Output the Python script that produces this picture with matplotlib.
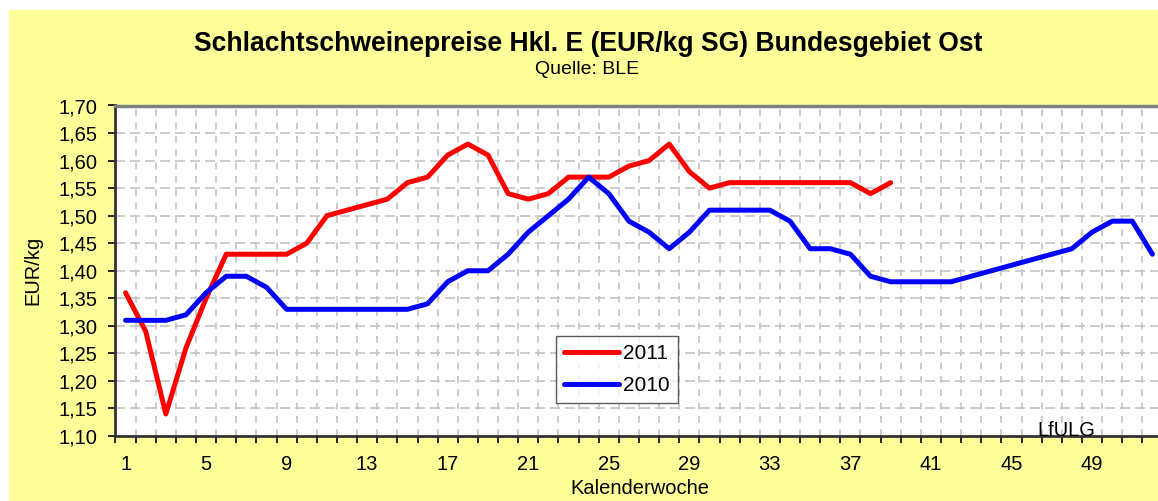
import matplotlib
matplotlib.use("Agg")
import matplotlib.pyplot as plt
from matplotlib.patches import Rectangle
from matplotlib.ticker import FuncFormatter, FixedLocator

plt.rcParams['font.family'] = ['Liberation Sans', 'DejaVu Sans']

# Kalenderwochen and prices (EUR/kg SG)
weeks_2011 = list(range(1, 40))
price_2011 = [1.36, 1.29, 1.14, 1.26, 1.35, 1.43, 1.43, 1.43, 1.43, 1.45,
              1.50, 1.51, 1.52, 1.53, 1.56, 1.57, 1.61, 1.63, 1.61, 1.54,
              1.53, 1.54, 1.57, 1.57, 1.57, 1.59, 1.60, 1.63, 1.58, 1.55,
              1.56, 1.56, 1.56, 1.56, 1.56, 1.56, 1.56, 1.54, 1.56]
weeks_2010 = list(range(1, 53))
price_2010 = [1.31, 1.31, 1.31, 1.32, 1.36, 1.39, 1.39, 1.37, 1.33, 1.33,
              1.33, 1.33, 1.33, 1.33, 1.33, 1.34, 1.38, 1.40, 1.40, 1.43,
              1.47, 1.50, 1.53, 1.57, 1.54, 1.49, 1.47, 1.44, 1.47, 1.51,
              1.51, 1.51, 1.51, 1.49, 1.44, 1.44, 1.43, 1.39, 1.38, 1.38,
              1.38, 1.38, 1.39, 1.40, 1.41, 1.42, 1.43, 1.44, 1.47, 1.49,
              1.49, 1.43]
xtick_labels = list(range(1, 53, 4))
yticks = [1.10 + 0.05 * i for i in range(13)]

W, H = 1158, 501
fig = plt.figure(figsize=(W / 100, H / 100), dpi=100, facecolor='white')
# yellow chart area (white margin on left/top)
fig.patches.append(Rectangle((9 / W, 0), 1, 1 - 10 / H, transform=fig.transFigure,
                             facecolor='#FFFF99', edgecolor='none', zorder=-10))

ax = fig.add_axes([115.5 / W, 1 - 436 / H, 1047 / W, 330.5 / H])
ax.set_facecolor('white')

ax.plot(weeks_2011, price_2011, color='#FF0000', lw=3.6, label='2011',
        solid_joinstyle='round', solid_capstyle='round', zorder=3)
ax.plot(weeks_2010, price_2010, color='#0000FF', lw=3.6, label='2010',
        solid_joinstyle='round', solid_capstyle='round', zorder=3)

ax.set_xlim(0.5, 52.5)
ax.set_ylim(1.10, 1.70)

# y axis
ax.set_yticks(yticks)
ax.yaxis.set_major_formatter(FuncFormatter(lambda v, p: f"{v:.2f}".replace('.', ',')))
ax.tick_params(axis='y', direction='out', length=5, width=1.2, pad=8, labelsize=14.5)

# x axis: ticks at category boundaries, labels centred on categories
ax.xaxis.set_major_locator(FixedLocator([i + 0.5 for i in range(0, 53)]))
ax.xaxis.set_minor_locator(FixedLocator(xtick_labels))
ax.xaxis.set_major_formatter(FuncFormatter(lambda v, p: ''))
ax.xaxis.set_minor_formatter(FuncFormatter(lambda v, p: f"{int(round(v))}"))
ax.tick_params(axis='x', which='major', direction='out', length=5, width=1.2)
ax.tick_params(axis='x', which='minor', length=0, pad=14, labelsize=14.5)

# dashed grid
for y in yticks[1:-1]:
    ax.axhline(y, color='#C4C4C4', lw=1.2, dashes=(6, 3), zorder=1)
for i in range(1, 53):
    ax.axvline(i + 0.5, color='#C4C4C4', lw=1.2, dashes=(4, 4), zorder=1)

for s in ['left', 'bottom']:
    ax.spines[s].set_color('#333333')
    ax.spines[s].set_linewidth(2)
ax.spines['top'].set_color('#808080')
ax.spines['top'].set_linewidth(2.5)
ax.spines['right'].set_visible(False)

leg = ax.legend(loc='upper left', bbox_to_anchor=(440.5 / 1047, 1 - 230.5 / 330.5),
                fontsize=15, frameon=True, fancybox=False, handlelength=2.6,
                handletextpad=0.2, borderpad=0.4, labelspacing=0.6, borderaxespad=0)
leg.get_frame().set_edgecolor('#333333')
leg.get_frame().set_linewidth(1)

ax.text(1066 / W, 1 - 430 / H, 'LfULG', transform=fig.transFigure, ha='center',
        va='center', fontsize=14.5)

fig.text(588 / W, 1 - 44 / H, 'Schlachtschweinepreise Hkl. E (EUR/kg SG) Bundesgebiet Ost',
         ha='center', va='center', fontsize=19.1, fontweight='bold')
fig.text(587 / W, 1 - 69 / H, 'Quelle: BLE', ha='center', va='center', fontsize=14)
fig.text(33 / W, 1 - 270 / H, 'EUR/kg', ha='center', va='center', rotation=90, fontsize=14.5)
fig.text(640 / W, 1 - 489 / H, 'Kalenderwoche', ha='center', va='center', fontsize=14.5)

fig.savefig('out.png', dpi=100, facecolor='white')
